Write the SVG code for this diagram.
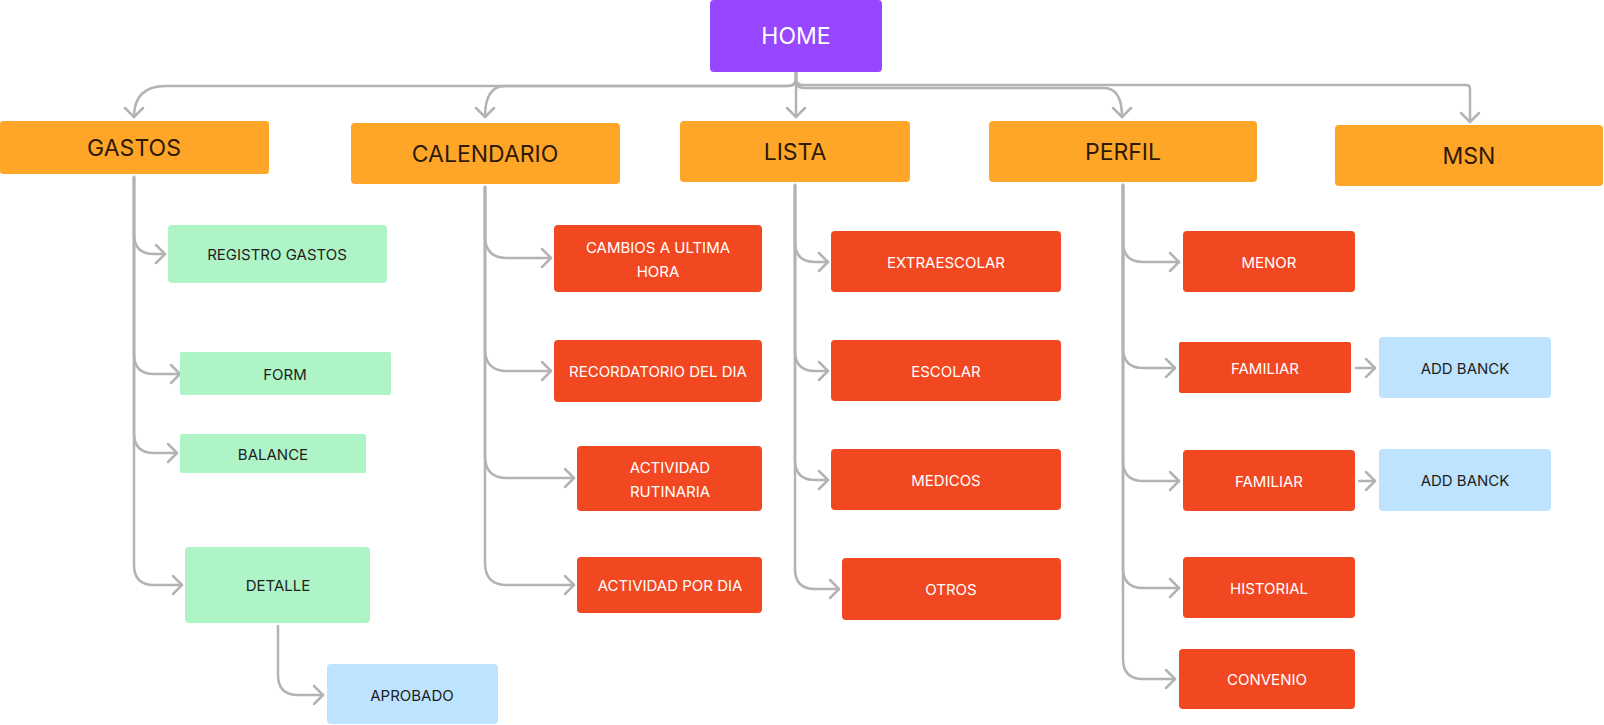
<svg xmlns="http://www.w3.org/2000/svg" width="1604" height="725" viewBox="0 0 1604 725">
<style>
.n{stroke:none}
.home{fill:#9747FF}
.org{fill:#FFA629}
.red{fill:#F24822}
.grn{fill:#AFF4C6}
.blu{fill:#BDE3FF}
text{font-family:Inter,"Liberation Sans",sans-serif;text-anchor:middle;dominant-baseline:central}
.t1{font-size:23px;fill:#2E1A05}
.th{font-size:23px;fill:#FFFFFF}
.tw{font-size:15px;fill:#FFFFFF}
.td{font-size:15px;fill:#1E1E1E}
.c{fill:none;stroke:#B3B3B3;stroke-width:2.5;stroke-linecap:round;stroke-linejoin:round;marker-end:url(#ah)}
</style>
<defs>
<marker id="ah" viewBox="-12 -12 14 24" markerWidth="14" markerHeight="24" refX="0" refY="0" orient="auto" markerUnits="userSpaceOnUse">
<path d="M-9,-9 L0,0 L-9,9" fill="none" stroke="#B3B3B3" stroke-width="2.5" stroke-linecap="round" stroke-linejoin="round"/>
</marker>
</defs>
<rect width="1604" height="725" fill="#FFFFFF"/>
<g id="connectors">
<path class="c" d="M796,72 L796,78 Q796,86 788,86 L166,86 Q134,86 134,117"/>
<path class="c" d="M796,72 L796,78 Q796,86 788,86 L505,86 Q485,86 485,117"/>
<path class="c" d="M796,72 L796,117"/>
<path class="c" d="M796,72 L796,80 Q796,88 804,88 L1104,88 Q1122,88 1122,117"/>
<path class="c" d="M796,72 L796,78 Q796,85 803,85 L1466,85 Q1470,85 1470,89 L1470,122"/>

<path class="c" d="M134,177 L134,234 Q134,254 154,254 L165,254"/>
<path class="c" d="M134,177 L134,354 Q134,374 154,374 L180,374"/>
<path class="c" d="M134,177 L134,433 Q134,453 154,453 L177,453"/>
<path class="c" d="M134,177 L134,565 Q134,585 154,585 L182,585"/>
<path class="c" d="M278,626 L278,675 Q278,695 298,695 L323,695"/>

<path class="c" d="M485,187 L485,236 Q485,258 507,258 L551,258"/>
<path class="c" d="M485,187 L485,349 Q485,371 507,371 L551,371"/>
<path class="c" d="M485,187 L485,456 Q485,478 507,478 L574,478"/>
<path class="c" d="M485,187 L485,563 Q485,585 507,585 L574,585"/>

<path class="c" d="M795,185 L795,242 Q795,262 815,262 L828,262"/>
<path class="c" d="M795,185 L795,351 Q795,371 815,371 L828,371"/>
<path class="c" d="M795,185 L795,460 Q795,480 815,480 L828,480"/>
<path class="c" d="M795,185 L795,569 Q795,589 815,589 L839,589"/>

<path class="c" d="M1123,185 L1123,242 Q1123,262 1143,262 L1179,262"/>
<path class="c" d="M1123,185 L1123,348 Q1123,368 1143,368 L1175,368"/>
<path class="c" d="M1123,185 L1123,461 Q1123,481 1143,481 L1179,481"/>
<path class="c" d="M1123,185 L1123,568 Q1123,588 1143,588 L1179,588"/>
<path class="c" d="M1123,185 L1123,659 Q1123,679 1143,679 L1175,679"/>
<path class="c" d="M1356,368 L1375,368"/>
<path class="c" d="M1359,481 L1375,481"/>
</g>

<g id="home"><rect class="home" x="710" y="0" width="172" height="72" rx="4"/><text class="th" x="796" y="36">HOME</text></g>

<g id="gastos"><rect class="org" x="0" y="121" width="269" height="53" rx="3"/><text class="t1" x="134" y="148">GASTOS</text></g>
<g id="calendario"><rect class="org" x="351" y="123" width="269" height="61" rx="4"/><text class="t1" x="485" y="154">CALENDARIO</text></g>
<g id="lista"><rect class="org" x="680" y="121" width="230" height="61" rx="4"/><text class="t1" x="795" y="152">LISTA</text></g>
<g id="perfil"><rect class="org" x="989" y="121" width="268" height="61" rx="4"/><text class="t1" x="1123" y="152">PERFIL</text></g>
<g id="msn"><rect class="org" x="1335" y="125" width="268" height="61" rx="4"/><text class="t1" x="1469" y="156">MSN</text></g>

<g id="registro-gastos"><rect class="grn" x="168" y="225" width="219" height="58" rx="4"/><text class="td" x="277" y="254">REGISTRO GASTOS</text></g>
<g id="form"><rect class="grn" x="180" y="352" width="211" height="43" rx="2"/><text class="td" x="285" y="374">FORM</text></g>
<g id="balance"><rect class="grn" x="180" y="434" width="186" height="39" rx="2"/><text class="td" x="273" y="454">BALANCE</text></g>
<g id="detalle"><rect class="grn" x="185" y="547" width="185" height="76" rx="4"/><text class="td" x="278" y="585">DETALLE</text></g>
<g id="aprobado"><rect class="blu" x="327" y="664" width="171" height="60" rx="4"/><text class="td" x="412" y="695">APROBADO</text></g>

<g id="cambios"><rect class="red" x="554" y="225" width="208" height="67" rx="4"/><text class="tw" x="658" y="247">CAMBIOS A ULTIMA</text><text class="tw" x="658" y="271">HORA</text></g>
<g id="recordatorio"><rect class="red" x="554" y="340" width="208" height="62" rx="4"/><text class="tw" x="658" y="371">RECORDATORIO DEL DIA</text></g>
<g id="actividad-rutinaria"><rect class="red" x="577" y="446" width="185" height="65" rx="4"/><text class="tw" x="670" y="467">ACTIVIDAD</text><text class="tw" x="670" y="491">RUTINARIA</text></g>
<g id="actividad-por-dia"><rect class="red" x="577" y="557" width="185" height="56" rx="4"/><text class="tw" x="670" y="585">ACTIVIDAD POR DIA</text></g>

<g id="extraescolar"><rect class="red" x="831" y="231" width="230" height="61" rx="4"/><text class="tw" x="946" y="262">EXTRAESCOLAR</text></g>
<g id="escolar"><rect class="red" x="831" y="340" width="230" height="61" rx="4"/><text class="tw" x="946" y="371">ESCOLAR</text></g>
<g id="medicos"><rect class="red" x="831" y="449" width="230" height="61" rx="4"/><text class="tw" x="946" y="480">MEDICOS</text></g>
<g id="otros"><rect class="red" x="842" y="558" width="219" height="62" rx="4"/><text class="tw" x="951" y="589">OTROS</text></g>

<g id="menor"><rect class="red" x="1183" y="231" width="172" height="61" rx="4"/><text class="tw" x="1269" y="262">MENOR</text></g>
<g id="familiar-1"><rect class="red" x="1179" y="342" width="172" height="51" rx="2"/><text class="tw" x="1265" y="368">FAMILIAR</text></g>
<g id="add-banck-1"><rect class="blu" x="1379" y="337" width="172" height="61" rx="4"/><text class="td" x="1465" y="368">ADD BANCK</text></g>
<g id="familiar-2"><rect class="red" x="1183" y="450" width="172" height="61" rx="4"/><text class="tw" x="1269" y="481">FAMILIAR</text></g>
<g id="add-banck-2"><rect class="blu" x="1379" y="449" width="172" height="62" rx="4"/><text class="td" x="1465" y="480">ADD BANCK</text></g>
<g id="historial"><rect class="red" x="1183" y="557" width="172" height="61" rx="4"/><text class="tw" x="1269" y="588">HISTORIAL</text></g>
<g id="convenio"><rect class="red" x="1179" y="649" width="176" height="60" rx="4"/><text class="tw" x="1267" y="679">CONVENIO</text></g>
</svg>
